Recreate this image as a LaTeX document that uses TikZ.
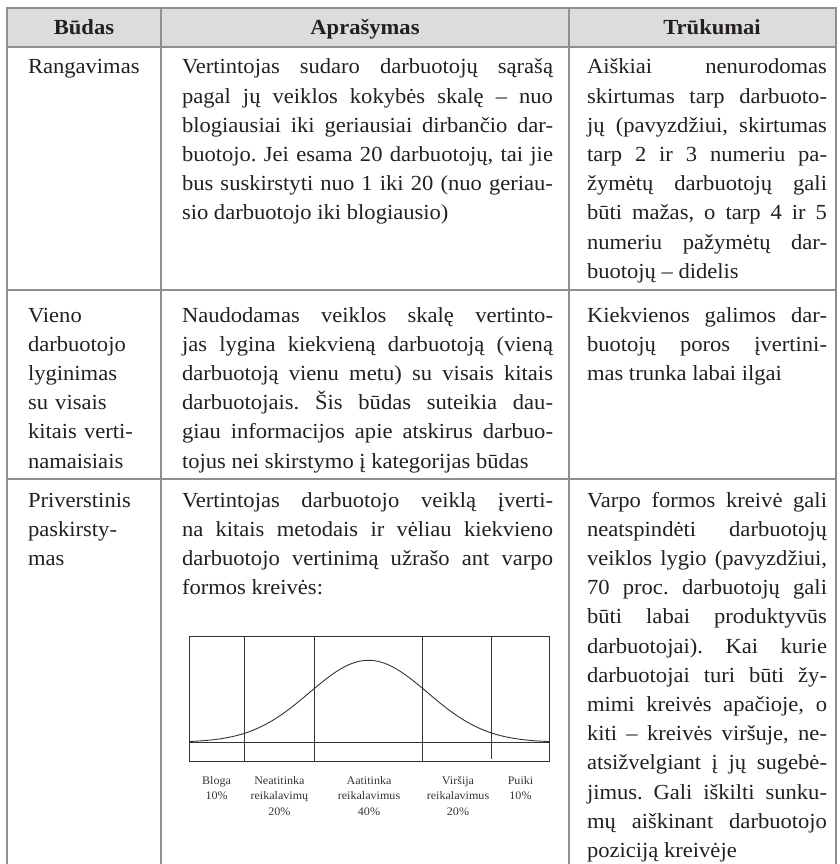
\documentclass[tikz,border=0pt]{standalone}
\usepackage{fontspec}
\setmainfont{Liberation Serif}[FakeStretch=1.05]

\definecolor{rulegray}{HTML}{8E8E8E}
\definecolor{headfill}{HTML}{DCDCDC}
\definecolor{ink}{HTML}{231F20}
\definecolor{chartink}{HTML}{333333}

\newcommand\bodyfont{\fontsize{21.5}{29.2}\selectfont\frenchspacing\tolerance=10000\hyphenpenalty=10000\exhyphenpenalty=10000}
\newcommand\headfont{\fontsize{21.5}{29.2}\selectfont\bfseries}
\newcommand\smalllabelfont{\fontsize{11.5}{15.7}\selectfont}

\tikzset{
  tablerule/.style={draw=rulegray, line width=1.2pt},
  chartline/.style={draw=chartink, line width=0.9pt},
  headtext/.style={anchor=base, inner sep=0pt, text=ink, font=\headfont},
  celltext/.style={anchor=base west, inner sep=0pt, outer sep=0pt, text=ink, font=\bodyfont},
  methodcell/.style={celltext, text width=128pt, align=left},
  desccell/.style={celltext, text width=371pt, align=justify},
  flawcell/.style={celltext, text width=240pt, align=justify},
  bandlabel/.style={anchor=base, inner sep=0pt, text=chartink, font=\smalllabelfont, align=center, text width=70pt}
}

\begin{document}
\begin{tikzpicture}[x=1pt, y=-1pt]
\useasboundingbox (0,0) rectangle (839,864);

% header band
\fill[headfill] (7,8) rectangle (836,47);

% table rules
\draw[tablerule] (7,864) -- (7,8) -- (836,8) -- (836,864);
\draw[tablerule] (7,47) -- (836,47);
\draw[tablerule] (7,290) -- (836,290);
\draw[tablerule] (7,479) -- (836,479);
\draw[tablerule] (161,8) -- (161,864);
\draw[tablerule] (569,8) -- (569,864);

% header
\node[headtext] (hmethod) at (84,35) {Būdas};
\node[headtext] (hdesc) at (365,35) {Aprašymas};
\node[headtext] (hflaw) at (712,35) {Trūkumai};

% row 1
\node[methodcell] (m1) at (28,74) {Rangavimas};
\node[desccell] (d1) at (182,74) {Vertintojas sudaro darbuotojų sąrašą\linebreak
pagal jų veiklos kokybės skalę – nuo\linebreak
blogiausiai iki geriausiai dirbančio dar-\linebreak
buotojo. Jei esama 20 darbuotojų, tai jie\linebreak
bus suskirstyti nuo 1 iki 20 (nuo geriau-\linebreak
sio darbuotojo iki blogiausio)};
\node[flawcell] (f1) at (587,74) {Aiškiai nenurodomas\linebreak
skirtumas tarp darbuoto-\linebreak
jų (pavyzdžiui, skirtumas\linebreak
tarp 2 ir 3 numeriu pa-\linebreak
žymėtų darbuotojų gali\linebreak
būti mažas, o tarp 4 ir 5\linebreak
numeriu pažymėtų dar-\linebreak
buotojų – didelis};

% row 2
\node[methodcell] (m2) at (28,322) {Vieno\\darbuotojo\\lyginimas\\su visais\\kitais verti-\\namaisiais};
\node[desccell] (d2) at (182,322) {Naudodamas veiklos skalę vertinto-\linebreak
jas lygina kiekvieną darbuotoją (vieną\linebreak
darbuotoją vienu metu) su visais kitais\linebreak
darbuotojais. Šis būdas suteikia dau-\linebreak
giau informacijos apie atskirus darbuo-\linebreak
tojus nei skirstymo į kategorijas būdas};
\node[flawcell] (f2) at (587,322) {Kiekvienos galimos dar-\linebreak
buotojų poros įvertini-\linebreak
mas trunka labai ilgai};

% row 3
\node[methodcell] (m3) at (28,507) {Priverstinis\\paskirsty-\\mas};
\node[desccell] (d3) at (182,507) {Vertintojas darbuotojo veiklą įverti-\linebreak
na kitais metodais ir vėliau kiekvieno\linebreak
darbuotojo vertinimą užrašo ant varpo\linebreak
formos kreivės:};
\node[flawcell] (f3) at (587,507) {Varpo formos kreivė gali\linebreak
neatspindėti darbuotojų\linebreak
veiklos lygio (pavyzdžiui,\linebreak
70 proc. darbuotojų gali\linebreak
būti labai produktyvūs\linebreak
darbuotojai). Kai kurie\linebreak
darbuotojai turi būti žy-\linebreak
mimi kreivės apačioje, o\linebreak
kiti – kreivės viršuje, ne-\linebreak
atsižvelgiant į jų sugebė-\linebreak
jimus. Gali iškilti sunku-\linebreak
mų aiškinant darbuotojo\linebreak
poziciją kreivėje};

% bell curve chart
\draw[chartline] (189.3,636.7) rectangle (549.3,761);
\draw[chartline] (189.3,742.3) -- (549.3,742.3);
\draw[chartline] (244,636.7) -- (244,761);
\draw[chartline] (314.7,636.7) -- (314.7,761);
\draw[chartline] (422.3,636.7) -- (422.3,761);
\draw[chartline] (491.7,636.7) -- (491.7,759);
\draw[chartline] plot[domain=189.3:549.3, samples=121, smooth]
  (\x,{742.3-82*exp(-0.5*((\x-368.5)/59)^2)});

% band labels
\node[bandlabel] (b1) at (216.6,784) {Bloga\\10\%};
\node[bandlabel] (b2) at (279.4,784) {Neatitinka\\reikalavimų\\20\%};
\node[bandlabel] (b3) at (369,784) {Aatitinka\\reikalavimus\\40\%};
\node[bandlabel] (b4) at (458,784) {Viršija\\reikalavimus\\20\%};
\node[bandlabel] (b5) at (520.5,784) {Puiki\\10\%};
\end{tikzpicture}
\end{document}
